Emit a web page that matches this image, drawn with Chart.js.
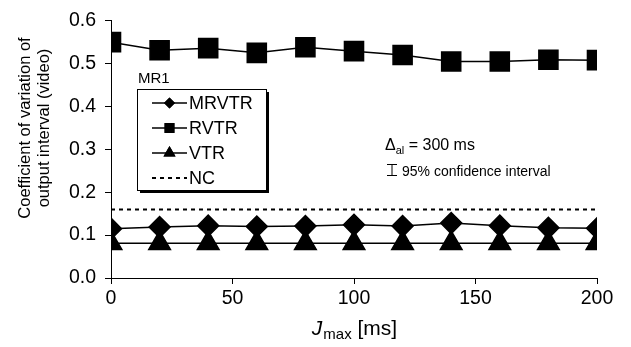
<!DOCTYPE html>
<html lang="en">
<head>
<meta charset="UTF-8">
<title>Coefficient of variation of output interval (video)</title>
<script src="https://cdn.jsdelivr.net/npm/chart.js"></script>
<style>
  html, body { margin: 0; padding: 0; background: #fff; }
  #wrap { width: 631px; height: 347px; }
</style>
</head>
<body>
<div id="wrap"><canvas id="myChart" width="631" height="347"></canvas></div>
<script>
    // data
    const jmax = [0, 20, 40, 60, 80, 100, 120, 140, 160, 180, 200];
    const mrvtr = [0.115, 0.119, 0.122, 0.120, 0.121, 0.124, 0.121, 0.128, 0.122, 0.117, 0.116];
    const rvtr = [0.550, 0.531, 0.536, 0.525, 0.538, 0.529, 0.520, 0.505, 0.505, 0.509, 0.508];
    const vtr = [0.081, 0.081, 0.081, 0.081, 0.081, 0.081, 0.081, 0.081, 0.081, 0.081, 0.081];
    const nc = [0.160, 0.160, 0.160, 0.160, 0.160, 0.160, 0.160, 0.160, 0.160, 0.160, 0.160];
    const yTitle = ['Coefficient of variation of', 'output interval (video)'];
    const legendTitle = 'MR1';

    const FONT = '"Liberation Sans", Arial, sans-serif';

    function pts(ys) {
        return jmax.map((x, i) => ({x: x, y: ys[i]}));
    }

    const data = {
        datasets: [{
            label: 'MRVTR',
            data: pts(mrvtr),
            borderColor: '#000',
            backgroundColor: '#000',
            borderWidth: 1.5,
            pointStyle: 'rectRot',
            pointRadius: 10.5,
            legendRadius: 5.5
        }, {
            label: 'RVTR',
            data: pts(rvtr),
            borderColor: '#000',
            backgroundColor: '#000',
            borderWidth: 1.5,
            pointStyle: 'rect',
            pointRadius: 13.5,
            legendRadius: 7
        }, {
            label: 'VTR',
            data: pts(vtr),
            borderColor: '#000',
            backgroundColor: '#000',
            borderWidth: 1.5,
            pointStyle: 'triangle',
            pointRadius: 12.5,
            legendRadius: 7
        }, {
            label: 'NC',
            data: pts(nc),
            borderColor: '#000',
            borderWidth: 2,
            borderDash: [4, 4],
            pointRadius: 0
        }]
    };

    // legend box, annotations and axis titles drawn on the canvas
    const extras = {
        id: 'extras',
        afterDraw(chart) {
            const ctx = chart.ctx;
            const area = chart.chartArea;
            ctx.save();
            ctx.fillStyle = '#000';
            ctx.strokeStyle = '#000';

            // y title
            ctx.save();
            ctx.translate(25, 128);
            ctx.rotate(-Math.PI / 2);
            ctx.font = '16.5px ' + FONT;
            ctx.textAlign = 'center';
            ctx.textBaseline = 'middle';
            ctx.fillText(yTitle[0], 0, 0);
            ctx.fillText(yTitle[1], 0, 19);
            ctx.restore();

            // x title: J_max [ms]
            const cx = (area.left + area.right) / 2;
            ctx.textBaseline = 'alphabetic';
            ctx.textAlign = 'left';
            ctx.font = 'italic 21px ' + FONT;
            const wJ = ctx.measureText('J').width;
            ctx.font = '15px ' + FONT;
            const wSub = ctx.measureText('max').width;
            ctx.font = '21px ' + FONT;
            const wRest = ctx.measureText(' [ms]').width;
            let x0 = cx - (wJ + wSub + wRest) / 2;
            const by = 335;
            ctx.font = 'italic 21px ' + FONT;
            ctx.fillText('J', x0, by);
            ctx.font = '15px ' + FONT;
            ctx.fillText('max', x0 + wJ + 1, by + 4);
            ctx.font = '21px ' + FONT;
            ctx.fillText(' [ms]', x0 + wJ + wSub + 1, by);

            // legend
            const lx = 137, ly = 89, lw = 129, lh = 101;
            ctx.font = '15px ' + FONT;
            ctx.textBaseline = 'middle';
            ctx.fillText(legendTitle, lx + 1, 79);
            ctx.fillRect(lx + 3, ly + 3, lw, lh);
            ctx.fillStyle = '#fff';
            ctx.fillRect(lx, ly, lw, lh);
            ctx.fillStyle = '#000';
            ctx.lineWidth = 1;
            ctx.strokeRect(lx + 0.5, ly + 0.5, lw, lh);

            ctx.font = '18px ' + FONT;
            chart.data.datasets.forEach((ds, i) => {
                const y = 103 + i * 25;
                ctx.save();
                ctx.lineWidth = ds.borderWidth;
                ctx.setLineDash(ds.borderDash || []);
                ctx.beginPath();
                ctx.moveTo(152, y);
                ctx.lineTo(187, y);
                ctx.stroke();
                ctx.restore();
                if (ds.pointRadius > 0) {
                    Chart.helpers.drawPoint(ctx, {
                        pointStyle: ds.pointStyle,
                        radius: ds.legendRadius,
                        rotation: 0,
                        borderWidth: 0
                    }, 169.5, y);
                    ctx.fill();
                }
                ctx.fillStyle = '#000';
                ctx.fillText(ds.label, 189, y + 1);
            });

            // annotation: Delta_al = 300 ms
            ctx.textBaseline = 'alphabetic';
            ctx.font = '16px ' + FONT;
            ctx.fillText('\u0394', 385, 150);
            const wD = ctx.measureText('\u0394').width;
            ctx.font = '11px ' + FONT;
            ctx.fillText('al', 385 + wD, 154);
            const wal = ctx.measureText('al').width;
            ctx.font = '16px ' + FONT;
            ctx.fillText(' = 300 ms', 385 + wD + wal, 150);

            // confidence interval symbol
            ctx.lineWidth = 1;
            ctx.beginPath();
            ctx.moveTo(387, 164.5); ctx.lineTo(397, 164.5);
            ctx.moveTo(392, 164.5); ctx.lineTo(392, 175.5);
            ctx.moveTo(387, 175.5); ctx.lineTo(397, 175.5);
            ctx.stroke();
            ctx.font = '14px ' + FONT;
            ctx.fillText('95% confidence interval', 402, 176);

            ctx.restore();
        }
    };

    const ctx = document.getElementById('myChart').getContext('2d');
    new Chart(ctx, {
        type: 'line',
        data: data,
        plugins: [extras],
        options: {
            responsive: false,
            animation: false,
            layout: {padding: {top: 14, right: 34, left: 0, bottom: 0}},
            plugins: {
                legend: {display: false},
                tooltip: {enabled: false}
            },
            elements: {
                line: {tension: 0},
                point: {borderWidth: 0}
            },
            scales: {
                x: {
                    type: 'linear',
                    min: 0,
                    max: 200,
                    afterFit: (s) => { s.height = 69; },
                    ticks: {
                        stepSize: 50,
                        color: '#000',
                        padding: 3,
                        font: {family: FONT, size: 19.5}
                    },
                    grid: {
                        drawOnChartArea: false,
                        drawTicks: true,
                        tickLength: 6,
                        color: '#000'
                    },
                    border: {color: '#000', width: 1}
                },
                y: {
                    min: 0,
                    max: 0.6,
                    afterFit: (s) => { s.width = 111; },
                    ticks: {
                        stepSize: 0.1,
                        color: '#000',
                        padding: 9,
                        font: {family: FONT, size: 19.5},
                        callback: (v) => v.toFixed(1)
                    },
                    grid: {
                        drawOnChartArea: false,
                        drawTicks: true,
                        tickLength: 6,
                        color: '#000'
                    },
                    border: {color: '#000', width: 1}
                }
            }
        }
    });
</script>
</body>
</html>
